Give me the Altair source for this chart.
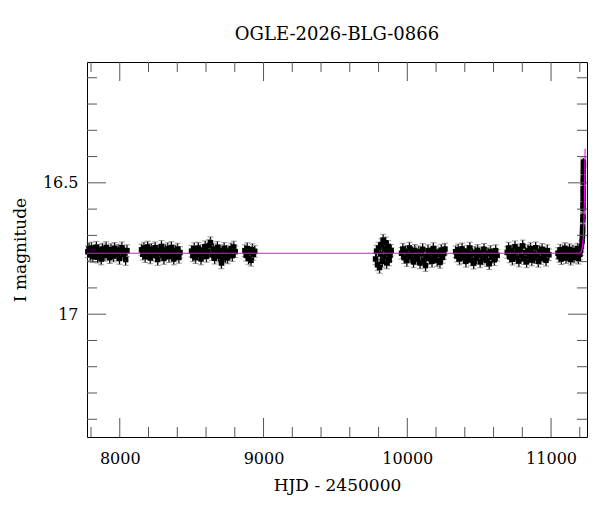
import altair as alt
import pandas as pd

# ---- photometry (HJD-2450000, I mag) ----
season1 = [(7778,16.762),(7786,16.751),(7795,16.774),(7803,16.748),(7812,16.781),(7820,16.759),(7829,16.770),
           (7837,16.745),(7846,16.783),(7854,16.757),(7862,16.768),(7871,16.790),(7879,16.752),(7888,16.765),
           (7896,16.776),(7905,16.746),(7913,16.771),(7922,16.760),(7930,16.785),(7939,16.754),(7947,16.767),
           (7956,16.779),(7964,16.749),(7973,16.763),(7981,16.774),(7990,16.756),(7998,16.788),(8007,16.761),
           (8015,16.747),(8024,16.772),(8032,16.766),(8041,16.792),(8050,16.758)]
season2 = [(8151,16.755),(8160,16.772),(8168,16.748),(8177,16.781),(8186,16.760),(8194,16.744),(8203,16.769),
           (8212,16.786),(8220,16.753),(8229,16.775),(8238,16.762),(8246,16.747),(8255,16.778),(8264,16.792),
           (8272,16.758),(8281,16.766),(8290,16.742),(8298,16.773),(8307,16.788),(8316,16.756),(8324,16.769),
           (8333,16.750),(8342,16.781),(8350,16.763),(8359,16.746),(8368,16.775),(8376,16.790),(8385,16.759),
           (8394,16.771),(8402,16.752),(8411,16.784),(8419,16.765)]
season3 = [(8499,16.760),(8508,16.777),(8518,16.750),(8527,16.785),(8537,16.764),(8546,16.748),(8556,16.772),
           (8565,16.790),(8575,16.756),(8584,16.769),(8594,16.743),(8603,16.780),(8613,16.761),(8622,16.738),
           (8631,16.728),(8641,16.774),(8650,16.752),(8660,16.787),(8669,16.766),(8679,16.745),(8688,16.779),
           (8698,16.758),(8707,16.805),(8711,16.792),(8717,16.771),(8726,16.749),(8736,16.783),(8745,16.760),
           (8750,16.786),(8764,16.768),(8774,16.751),(8783,16.777),(8793,16.744),(8803,16.762)]
season4 = [(8870,16.758),(8879,16.776),(8887,16.750),(8896,16.788),(8905,16.765),(8913,16.795),(8922,16.754),
           (8930,16.772),(8939,16.761)]
season5 = [(9779,16.790),(9786,16.760),(9793,16.812),(9800,16.748),(9807,16.822),(9814,16.771),(9820,16.735),
           (9826,16.799),(9832,16.718),(9838,16.783),(9844,16.752),(9850,16.728),(9856,16.805),(9862,16.765),
           (9868,16.742),(9874,16.794),(9880,16.776),(9888,16.757)]
season6 = [(9960,16.768),(9969,16.752),(9978,16.785),(9988,16.761),(9997,16.796),(10006,16.774),(10015,16.748),
           (10024,16.782),(10034,16.765),(10043,16.801),(10052,16.757),(10061,16.779),(10070,16.790),(10080,16.762),
           (10089,16.805),(10098,16.771),(10107,16.753),(10116,16.794),(10127,16.815),(10135,16.776),(10144,16.758),
           (10153,16.788),(10162,16.767),(10172,16.799),(10181,16.750),(10190,16.781),(10199,16.763),(10208,16.796),
           (10218,16.772),(10227,16.803),(10236,16.756),(10245,16.784),(10254,16.769),(10262,16.752)]
season7 = [(10336,16.762),(10345,16.779),(10354,16.755),(10363,16.790),(10372,16.768),(10381,16.751),(10390,16.785),
           (10399,16.772),(10408,16.799),(10417,16.760),(10426,16.781),(10435,16.748),(10444,16.794),(10453,16.770),
           (10462,16.806),(10471,16.764),(10480,16.787),(10489,16.757),(10498,16.775),(10507,16.801),(10516,16.766),
           (10525,16.790),(10534,16.753),(10543,16.778),(10552,16.796),(10561,16.769),(10570,16.808),(10579,16.761),
           (10588,16.784),(10597,16.772),(10606,16.793),(10615,16.758),(10625,16.776)]
season8 = [(10695,16.765),(10704,16.748),(10713,16.782),(10722,16.759),(10731,16.791),(10740,16.771),(10749,16.743),
           (10758,16.786),(10767,16.762),(10776,16.798),(10785,16.754),(10794,16.777),(10803,16.740),(10812,16.789),
           (10821,16.766),(10830,16.801),(10839,16.758),(10848,16.780),(10857,16.750),(10866,16.794),(10875,16.769),
           (10884,16.785),(10893,16.747),(10902,16.775),(10911,16.799),(10920,16.761),(10929,16.788),(10938,16.753),
           (10947,16.779),(10956,16.767),(10965,16.795),(10974,16.758),(10985,16.774)]
season9 = [(11048,16.768),(11056,16.781),(11064,16.755),(11072,16.790),(11080,16.762),(11088,16.775),(11096,16.749),
           (11104,16.786),(11112,16.766),(11120,16.779),(11128,16.753),(11136,16.792),(11144,16.770),(11152,16.758),
           (11160,16.784),(11168,16.763),(11176,16.776),(11184,16.751),(11190,16.788),(11196,16.760),(11201,16.772),
           (11206,16.755),(11211,16.742)]
event = [(11216,16.722),(11218,16.703),(11219,16.684),(11220,16.668),(11221,16.641),(11222,16.627),(11222,16.598),
         (11222,16.583),(11223,16.561),(11223,16.540),(11223,16.522),(11224,16.497),(11224,16.481),(11224,16.458),
         (11225,16.437),(11225,16.421)]
seasons = [season1, season2, season3, season4, season5, season6, season7, season8, season9, event]
season_err = [0.022, 0.022, 0.022, 0.022, 0.022, 0.022, 0.022, 0.022, 0.021, 0.015]

# model light curve (magenta)
model_t = [7772, 11195, 11205, 11212, 11218, 11224, 11229, 11232, 11234, 11236, 11237]
model_m = [16.768, 16.768, 16.766, 16.760, 16.745, 16.710, 16.640, 16.560, 16.480, 16.400, 16.370]

# axes
x_domain = [7772, 11250]
y_domain = [16.04, 17.4675]
x_labels = [8000, 9000, 10000, 11000]
x_minor = [7800, 8200, 8400, 8600, 8800, 9200, 9400, 9600, 9800, 10200, 10400, 10600, 10800, 11200]
y_labels = [16.5, 17.0]
y_minor = [16.1, 16.2, 16.3, 16.4, 16.6, 16.7, 16.8, 16.9, 17.1, 17.2, 17.3, 17.4]

rows = []
for pts, e in zip(seasons, season_err):
    for t, m in pts:
        rows.append({"t": t, "m": m, "lo": m - e, "hi": m + e})
df = pd.DataFrame(rows)
model_df = pd.DataFrame({"t": model_t, "m": model_m})

W, H = 500, 375
FONT = "DejaVu Serif"
xs = alt.Scale(domain=x_domain, nice=False, zero=False)
ys = alt.Scale(domain=y_domain, nice=False, zero=False, reverse=True)

x_axis = alt.Axis(values=x_labels, format="d", title="HJD - 2450000", ticks=False, tickSize=0,
                  domain=False, grid=False, labelPadding=26, labelBaseline="alphabetic",
                  labelFont=FONT, labelFontSize=16, labelColor="black",
                  titleFont=FONT, titleFontSize=17, titleFontWeight="normal", titleColor="black",
                  titleY=53, titleBaseline="alphabetic")
y_axis = alt.Axis(values=y_labels, title="I magnitude", ticks=False, tickSize=0,
                  labelExpr="replace(format(datum.value, '.1f'), '.0', '')",
                  domain=False, grid=False, labelPadding=9,
                  labelFont=FONT, labelFontSize=16, labelColor="black",
                  titleFont=FONT, titleFontSize=17, titleFontWeight="normal", titleColor="black",
                  titleX=-67, titleBaseline="middle")

def X(field):
    return alt.X(field, scale=xs, axis=x_axis, title="HJD - 2450000")

def Y(field):
    return alt.Y(field, scale=ys, axis=y_axis, title="I magnitude")

base = alt.Chart(df)
errbars = base.mark_rule(color="black", strokeWidth=1.3).encode(x=X("t:Q"), y=Y("lo:Q"), y2="hi:Q")
cap_lo = base.mark_tick(color="#707070", orient="horizontal", size=6, thickness=1).encode(
    x=X("t:Q"), y=Y("lo:Q"))
cap_hi = base.mark_tick(color="#707070", orient="horizontal", size=6, thickness=1).encode(
    x=X("t:Q"), y=Y("hi:Q"))
pts = base.mark_point(shape="square", filled=True, color="black", size=30, opacity=1).encode(
    x=X("t:Q"), y=Y("m:Q"))
model = alt.Chart(model_df).mark_line(color="#ff00ff", strokeWidth=1.1, clip=True).encode(
    x=X("t:Q"), y=Y("m:Q"))

TICK = "#555555"
xmaj = pd.DataFrame({"v": x_labels})
xmin = pd.DataFrame({"v": x_minor})
ymaj = pd.DataFrame({"v": y_labels})
ymin = pd.DataFrame({"v": y_minor})

def xticks(d, length):
    bot = alt.Chart(d).mark_rule(color=TICK, strokeWidth=1).encode(
        x=X("v:Q"), y=alt.value(H), y2=alt.value(H - length))
    top = alt.Chart(d).mark_rule(color=TICK, strokeWidth=1).encode(
        x=X("v:Q"), y=alt.value(0), y2=alt.value(length))
    return [bot, top]

def yticks(d, length):
    left = alt.Chart(d).mark_rule(color=TICK, strokeWidth=1).encode(
        y=Y("v:Q"), x=alt.value(0), x2=alt.value(length))
    right = alt.Chart(d).mark_rule(color=TICK, strokeWidth=1).encode(
        y=Y("v:Q"), x=alt.value(W), x2=alt.value(W - length))
    return [left, right]

layers = [errbars, cap_lo, cap_hi, pts, model] + xticks(xmaj, 19) + xticks(xmin, 10) \
         + yticks(ymaj, 19) + yticks(ymin, 10)

chart = alt.layer(*layers).properties(
    width=W, height=H,
    title=alt.TitleParams("OGLE-2026-BLG-0866", font=FONT, fontSize=18, fontWeight="normal",
                          color="black", baseline="alphabetic", offset=4, anchor="middle"),
    padding={"left": 79, "top": 54, "right": 5, "bottom": 60},
    autosize=alt.AutoSizeParams(type="none"),
    background="white",
).configure_view(stroke="black", strokeWidth=1)

chart.save("out.html", embed_options={"renderer": "svg", "actions": False})
